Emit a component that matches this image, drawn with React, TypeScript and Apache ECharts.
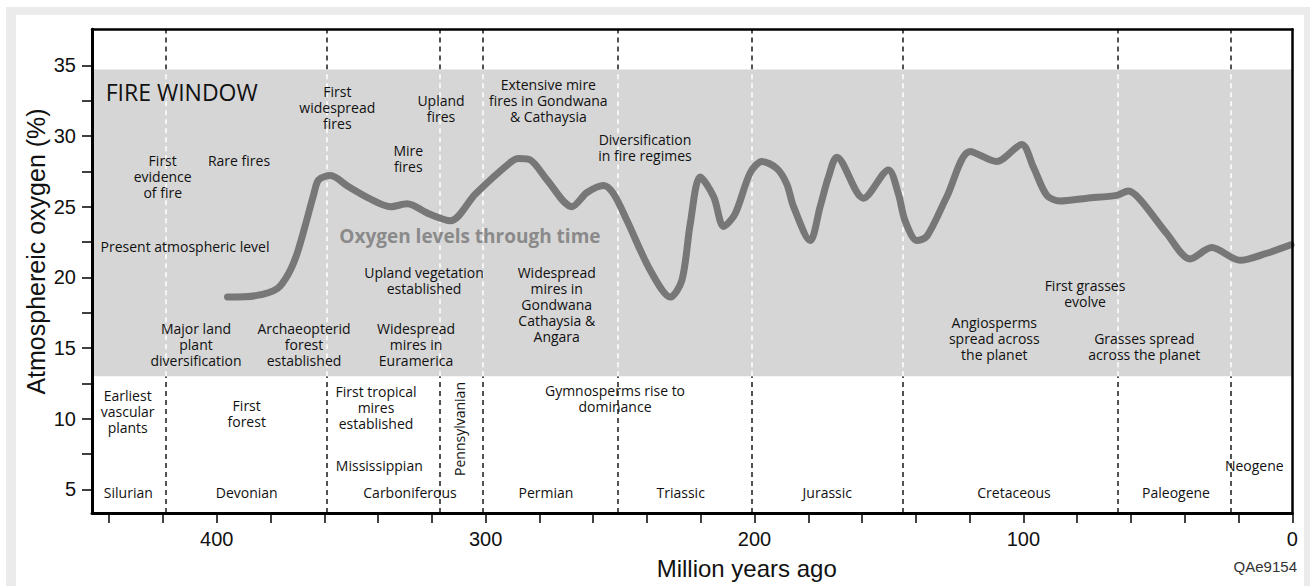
import React, { useEffect, useRef } from "react";
import * as echarts from "echarts";

// Curve: age (Ma) and atmospheric oxygen (%)
const ages = [396, 385.6, 377.5, 373.2, 370.1, 366.9, 363.9, 362.1, 357.7, 350.9, 343.5, 335.4, 329.2, 321.2, 313.1, 303.8, 291, 287.7, 283.4, 277.2, 267.9, 262.3, 256.1, 252.4, 247.4, 238.8, 231.3, 227.0, 223.9, 220.2, 215.2, 211.5, 207.2, 201.6, 197.2, 191.7, 188.0, 185.5, 179.3, 175.6, 172.5, 169.4, 159.5, 150.2, 146.5, 144.0, 139.6, 135.9, 128.5, 119.8, 109.9, 100.6, 96.3, 91.3, 86.4, 76.4, 65.3, 61.0, 56.6, 46.7, 38.0, 30.0, 19.4, 9.5, 0.5];
const oxygen = [18.6, 18.7, 19.2, 20.3, 21.7, 23.8, 25.9, 26.9, 27.2, 26.4, 25.6, 25.0, 25.2, 24.5, 24.0, 25.9, 28.1, 28.4, 28.3, 26.9, 25.0, 26.0, 26.5, 25.9, 24.0, 20.5, 18.6, 19.8, 23.8, 27.1, 25.7, 23.6, 24.5, 27.4, 28.2, 27.7, 26.6, 25.0, 22.6, 25.0, 27.1, 28.5, 25.6, 27.6, 25.9, 24.0, 22.6, 22.9, 25.7, 28.9, 28.2, 29.4, 27.8, 25.8, 25.4, 25.6, 25.8, 26.1, 25.5, 23.1, 21.3, 22.1, 21.2, 21.7, 22.3];

// Period boundaries (Ma)
const boundaries = [419, 359, 317, 301, 251, 201, 145, 65, 23];

// Fire window (% O2)
const fireWindow = [13, 34.7];

// Axis extents & ticks
const xMin = 0;
const xMax = 446.4;
const yMin = 3.32;
const yMax = 37.55;
const xTickValues = [0, 20, 40, 60, 80, 100, 120, 140, 160, 180, 200, 220, 240, 260, 280, 300, 320, 340, 360, 380, 400, 420, 440];
const xLabelValues = [0, 100, 200, 300, 400];
const yTickValues = [5, 7.5, 10, 12.5, 15, 17.5, 20, 22.5, 25, 27.5, 30, 32.5, 35];
const yLabelValues = [5, 10, 15, 20, 25, 30, 35];

const ANN_FONT = '"Open Sans", sans-serif';

type Ann = { t: string; x: number; y: number; rot?: boolean };
const annotations: Ann[] = [
  { t: "First\nevidence\nof fire", x: 162.7, y: 176.8 },
  { t: "Rare fires", x: 239, y: 160 },
  { t: "First\nwidespread\nfires", x: 337.3, y: 107.3 },
  { t: "Mire\nfires", x: 408.3, y: 158.8 },
  { t: "Upland\nfires", x: 441, y: 108.7 },
  { t: "Present atmospheric level", x: 185, y: 246 },
  { t: "Upland vegetation\nestablished", x: 424, y: 280 },
  { t: "Extensive mire\nfires in Gondwana\n& Cathaysia", x: 548.3, y: 100.3 },
  { t: "Diversification\nin fire regimes", x: 645, y: 147.8 },
  { t: "Major land\nplant\ndiversification", x: 196, y: 344 },
  { t: "Archaeopterid\nforest\nestablished", x: 304, y: 344 },
  { t: "Widespread\nmires in\nEuramerica", x: 416, y: 344 },
  { t: "Earliest\nvascular\nplants", x: 127.7, y: 411.8 },
  { t: "First\nforest", x: 246.7, y: 413 },
  { t: "First tropical\nmires\nestablished", x: 376, y: 407.8 },
  { t: "Mississippian", x: 379.3, y: 465 },
  { t: "Silurian", x: 128.3, y: 492.7 },
  { t: "Devonian", x: 246.7, y: 492.7 },
  { t: "Carboniferous", x: 410, y: 492.7 },
  { t: "Pennsylvanian", x: 459.3, y: 429, rot: true },
  { t: "Widespread\nmires in\nGondwana\nCathaysia &\nAngara", x: 556.7, y: 304.2 },
  { t: "Gymnosperms rise to\ndominance", x: 615, y: 398.8 },
  { t: "Permian", x: 546, y: 492.7 },
  { t: "Triassic", x: 680.7, y: 492.7 },
  { t: "Jurassic", x: 827.3, y: 492.7 },
  { t: "First grasses\nevolve", x: 1085, y: 293.8 },
  { t: "Angiosperms\nspread across\nthe planet", x: 994.3, y: 338.7 },
  { t: "Grasses spread\nacross the planet", x: 1144.3, y: 346.8 },
  { t: "Neogene", x: 1254.3, y: 465 },
  { t: "Cretaceous", x: 1014, y: 492.7 },
  { t: "Paleogene", x: 1176, y: 492.7 },
];

export default function App() {
  const ref = useRef<HTMLDivElement>(null);
  useEffect(() => {
    if (!ref.current) return;
    const chart = echarts.init(ref.current, undefined, { renderer: "svg" });

    const curve = ages.map((a, i) => [a, oxygen[i]]);
    const dash = [5, 4];
    const blackLines: any[] = [];
    const whiteLines: any[] = [];
    boundaries.forEach((b) => {
      blackLines.push([{ coord: [b, yMin] }, { coord: [b, fireWindow[0]] }]);
      blackLines.push([{ coord: [b, fireWindow[1]] }, { coord: [b, yMax] }]);
      whiteLines.push([{ coord: [b, fireWindow[0]] }, { coord: [b, fireWindow[1]] }]);
    });

    const graphics: any[] = annotations.map((a) => ({
      type: "text",
      x: a.x,
      y: a.y,
      rotation: a.rot ? Math.PI / 2 : 0,
      z: 100,
      style: {
        text: a.t,
        fill: "#111",
        font: `14px ${ANN_FONT}`,
        lineHeight: 16,
        align: "center",
        verticalAlign: "middle",
      },
    }));
    graphics.push(
      {
        type: "text",
        x: 105.7,
        y: 91.7,
        z: 100,
        style: { text: "FIRE WINDOW", fill: "#111", font: `23px ${ANN_FONT}`, align: "left", verticalAlign: "middle" },
      },
      {
        type: "text",
        x: 339.3,
        y: 236,
        z: 100,
        style: { text: "Oxygen levels through time", fill: "#8a8a8a", font: `bold 19px ${ANN_FONT}`, align: "left", verticalAlign: "middle" },
      },
      {
        type: "text",
        x: 36,
        y: 251.5,
        rotation: Math.PI / 2,
        z: 100,
        style: { text: "Atmosphereic oxygen (%)", fill: "#111", font: "25px 'Liberation Sans', Arial, sans-serif", align: "center", verticalAlign: "middle" },
      },
      {
        type: "text",
        x: 746.7,
        y: 568,
        z: 100,
        style: { text: "Million years ago", fill: "#111", font: "24px 'Liberation Sans', Arial, sans-serif", align: "center", verticalAlign: "middle" },
      },
      {
        type: "text",
        x: 1297,
        y: 566.7,
        z: 100,
        style: { text: "QAe9154", fill: "#333", font: "15px 'Liberation Sans', Arial, sans-serif", align: "right", verticalAlign: "middle" },
      }
    );

    const axisFont = { color: "#111", fontSize: 20, fontFamily: "'Liberation Sans', Arial, sans-serif" };

    chart.setOption({
      animation: false,
      grid: { left: 92, right: 17.7, top: 29.3, bottom: 73, show: false },
      xAxis: [
        {
          type: "value",
          inverse: true,
          min: xMin,
          max: xMax,
          position: "bottom",
          axisLine: { show: true, onZero: false, lineStyle: { color: "#000", width: 3 } },
          axisTick: { show: true, length: 10, customValues: xTickValues, lineStyle: { color: "#000", width: 1.5 } },
          axisLabel: { show: true, margin: 16, customValues: xLabelValues, ...axisFont },
          splitLine: { show: false },
          z: 10,
        },
        {
          type: "value",
          inverse: true,
          min: xMin,
          max: xMax,
          position: "top",
          axisLine: { show: true, onZero: false, lineStyle: { color: "#000", width: 2.5 } },
          axisTick: { show: false },
          axisLabel: { show: false },
          splitLine: { show: false },
          z: 10,
        },
      ],
      yAxis: [
        {
          type: "value",
          min: yMin,
          max: yMax,
          position: "left",
          axisLine: { show: true, onZero: false, lineStyle: { color: "#000", width: 3 } },
          axisTick: { show: true, length: 10, customValues: yTickValues, lineStyle: { color: "#000", width: 1.5 } },
          axisLabel: { show: true, margin: 16, customValues: yLabelValues, ...axisFont },
          splitLine: { show: false },
          z: 10,
        },
        {
          type: "value",
          min: yMin,
          max: yMax,
          position: "right",
          axisLine: { show: true, onZero: false, lineStyle: { color: "#000", width: 2.5 } },
          axisTick: { show: false },
          axisLabel: { show: false },
          splitLine: { show: false },
          z: 10,
        },
      ],
      series: [
        {
          type: "line",
          data: [],
          silent: true,
          markArea: {
            silent: true,
            itemStyle: { color: "#d6d6d6", opacity: 1 },
            data: [[{ yAxis: fireWindow[0] }, { yAxis: fireWindow[1] }]],
          },
          z: 1,
        },
        {
          type: "line",
          data: [],
          silent: true,
          markLine: {
            silent: true,
            symbol: ["none", "none"],
            label: { show: false },
            lineStyle: { color: "#1a1a1a", type: dash, width: 1.5 },
            data: blackLines,
          },
          z: 2,
        },
        {
          type: "line",
          data: [],
          silent: true,
          markLine: {
            silent: true,
            symbol: ["none", "none"],
            label: { show: false },
            lineStyle: { color: "#ffffff", type: dash, width: 1.5 },
            data: whiteLines,
          },
          z: 2,
        },
        {
          type: "line",
          data: curve,
          smooth: 0.3,
          showSymbol: false,
          silent: true,
          lineStyle: { color: "#777777", width: 7, cap: "round", join: "round" },
          z: 5,
        },
      ],
      graphic: graphics,
    });
    return () => chart.dispose();
  }, []);

  return (
    <div style={{ position: "fixed", left: 0, top: 0, width: 1310, height: 586, background: "#fff", overflow: "hidden" }}>
      <div style={{ position: "absolute", left: 6, top: 7, width: 1304, height: 579, background: "#ebebeb" }} />
      <div style={{ position: "absolute", left: 16, top: 15, width: 1288, height: 571, background: "#fff" }} />
      <div ref={ref} style={{ position: "absolute", left: 0, top: 0, width: 1310, height: 586 }} />
    </div>
  );
}
